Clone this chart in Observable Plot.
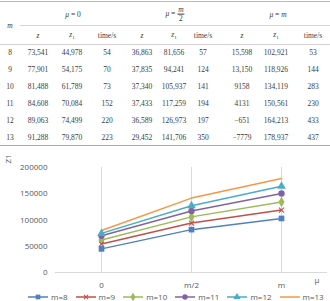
<!DOCTYPE html>
<html>
<head>
<meta charset="utf-8">
<script src="https://cdn.jsdelivr.net/npm/d3@7"></script>
<script src="https://cdn.jsdelivr.net/npm/@observablehq/plot@0.6"></script>
<style>
  body { margin: 0; background: #fff; }
  #page { position: relative; width: 330px; height: 301px; overflow: hidden; }
  #table { position: absolute; left: 0; top: 0; width: 330px; height: 147px;
           font-family: "Liberation Serif", serif; font-size: 7.5px; color: #3a3a3a; }
  #table .c { position: absolute; transform: translate(-50%, -50%); white-space: nowrap; }
  #table .rule { position: absolute; height: 0; }
  #table i { font-style: italic; }
  #chart { position: absolute; left: 0; top: 150px; }
  #legend { position: absolute; left: 28px; top: 291px; display: flex; gap: 8px;
            font-family: "Open Sans", sans-serif; font-size: 8px; color: #595959; }
  #legend .item { display: flex; align-items: center; }
  #legend svg { margin-right: 3px; }
</style>
</head>
<body>
<div id="page">
  <div id="table"></div>
  <div id="chart"></div>
  <div id="legend"></div>
</div>
<script>
// Problem sizes m and the three settings of μ
const ms = [8, 9, 10, 11, 12, 13];
const muLabels = ["0", "m/2", "m"];

// μ = 0
const zMu0 = [73541, 77901, 81488, 84608, 89063, 91288];
const z1Mu0 = [44978, 54175, 61789, 70084, 74499, 79870];
const tMu0 = [54, 70, 73, 152, 220, 223];
// μ = m/2
const zMuHalf = [36863, 37835, 37340, 37433, 36589, 29452];
const z1MuHalf = [81656, 94241, 105937, 117259, 126973, 141706];
const tMuHalf = [57, 124, 141, 194, 197, 350];
// μ = m
const zMuM = [15598, 13150, 9158, 4131, -651, -7779];
const z1MuM = [102921, 118926, 134119, 150561, 164213, 178937];
const tMuM = [53, 144, 283, 230, 433, 437];

const yTicks = [0, 50000, 100000, 150000, 200000];
const seriesNames = ms.map(m => "m=" + m);
const seriesColors = ["#4F81BD", "#C0504D", "#9BBB59", "#8064A2", "#4BACC6", "#F79646"];
const seriesSymbols = ["square", "times", "diamond", "circle", "triangle", null];

// ---------- table ----------
const table = document.getElementById("table");
function cell(html, x, y) {
  const d = document.createElement("div");
  d.className = "c";
  d.style.left = x + "px";
  d.style.top = y + "px";
  d.innerHTML = html;
  table.appendChild(d);
}
function rule(x1, x2, y, color) {
  const d = document.createElement("div");
  d.className = "rule";
  d.style.left = x1 + "px";
  d.style.width = (x2 - x1) + "px";
  d.style.top = y + "px";
  d.style.borderTop = "1px solid " + color;
  table.appendChild(d);
}
const fmt = v => {
  const s = Math.abs(v) >= 10000 ? d3.format(",")(Math.abs(v)) : String(Math.abs(v));
  return (v < 0 ? "\u2212" : "") + s;
};

rule(0, 330, 1, "#cdb0bf");
rule(20, 330, 25, "#dccfd6");
rule(0, 330, 44, "#dccfd6");
rule(0, 330, 145, "#c49aa9");

const colX = [38, 72, 107, 142, 174, 203, 242, 276, 313];
const groupX = [73, 175, 278];
const frac = '<span style="display:inline-flex;flex-direction:column;align-items:center;vertical-align:middle;line-height:1.05"><i style="border-bottom:0.6px solid #3a3a3a;padding:0 1px">m</i><span>2</span></span>';
const groupHeads = ['<i>μ</i> = 0', '<i>μ</i> = ' + frac, '<i>μ</i> = <i>m</i>'];
groupHeads.forEach((h, k) => cell(h, groupX[k], 14));
cell("<i>m</i>", 10, 25);
const subHeads = ["<i>z</i>", "<i>z</i><sub style=\"font-size:5px\">1</sub>", "time/s"];
colX.forEach((x, k) => cell(subHeads[k % 3], x, 35));

const columns = [zMu0, z1Mu0, tMu0, zMuHalf, z1MuHalf, tMuHalf, zMuM, z1MuM, tMuM];
ms.forEach((m, i) => {
  const y = 52 + i * 17;
  cell(String(m), 10, y);
  columns.forEach((col, k) => cell(k % 3 === 2 ? String(col[i]) : fmt(col[i]), colX[k], y));
});

// ---------- chart ----------
const z1ByMu = [z1Mu0, z1MuHalf, z1MuM];
const points = [];
ms.forEach((m, i) => {
  muLabels.forEach((mu, j) => {
    points.push({series: seriesNames[i], mu, z1: z1ByMu[j][i], symbol: seriesSymbols[i]});
  });
});

const chart = Plot.plot({
  width: 330,
  height: 140,
  marginTop: 17,
  marginBottom: 18,
  marginLeft: 55,
  marginRight: 3,
  style: {fontFamily: "Open Sans, sans-serif", fontSize: "8px", color: "#595959", background: "transparent"},
  x: {type: "point", domain: muLabels, padding: 0.5},
  y: {domain: [0, 200000]},
  color: {domain: seriesNames, range: seriesColors},
  symbol: {domain: seriesNames.slice(0, 5), range: seriesSymbols.slice(0, 5)},
  marks: [
    Plot.ruleX(muLabels, {x: d => d, y1: 0, y2: 200000, stroke: "#d9d9d9"}),
    Plot.ruleY([0], {stroke: "#d9d9d9"}),
    Plot.axisY({ticks: yTicks, tickSize: 0, tickPadding: 8, tickFormat: d => String(d), label: null}),
    Plot.axisX({tickSize: 0, tickPadding: 10, label: null}),
    Plot.text(["Z1"], {frameAnchor: "top-left", rotate: -90, dx: -50, dy: -4, fill: "#595959"}),
    Plot.text(["μ"], {frameAnchor: "bottom-right", dx: -8, dy: 10, fill: "#595959"}),
    Plot.line(points, {x: "mu", y: "z1", z: "series", stroke: "series", strokeWidth: 1.5}),
    Plot.dot(points.filter(d => d.symbol && d.symbol !== "times"),
      {x: "mu", y: "z1", symbol: "series", fill: "series", r: 3.2}),
    Plot.dot(points.filter(d => d.symbol === "times"),
      {x: "mu", y: "z1", symbol: "series", stroke: "series", fill: "none", r: 2.4, strokeWidth: 1.1})
  ]
});
document.getElementById("chart").appendChild(chart);

// ---------- legend ----------
const legend = document.getElementById("legend");
const symbolMap = {square: d3.symbolSquare, times: d3.symbolTimes, diamond: d3.symbolDiamond,
                   circle: d3.symbolCircle, triangle: d3.symbolTriangle};
seriesNames.forEach((name, i) => {
  const item = document.createElement("div");
  item.className = "item";
  const svg = d3.create("svg").attr("width", 20).attr("height", 8);
  svg.append("line").attr("x1", 0).attr("x2", 20).attr("y1", 4).attr("y2", 4)
    .attr("stroke", seriesColors[i]).attr("stroke-width", 1.5);
  const s = seriesSymbols[i];
  if (s) {
    const size = s === "times" ? Math.PI * 4 : Math.PI * 7;
    const p = svg.append("path").attr("transform", "translate(10,4)")
      .attr("d", d3.symbol(symbolMap[s], size)());
    if (s === "times") p.attr("fill", "none").attr("stroke", seriesColors[i]).attr("stroke-width", 1.1);
    else p.attr("fill", seriesColors[i]);
  }
  item.appendChild(svg.node());
  const t = document.createElement("span");
  t.textContent = name;
  item.appendChild(t);
  legend.appendChild(item);
});
</script>
</body>
</html>
